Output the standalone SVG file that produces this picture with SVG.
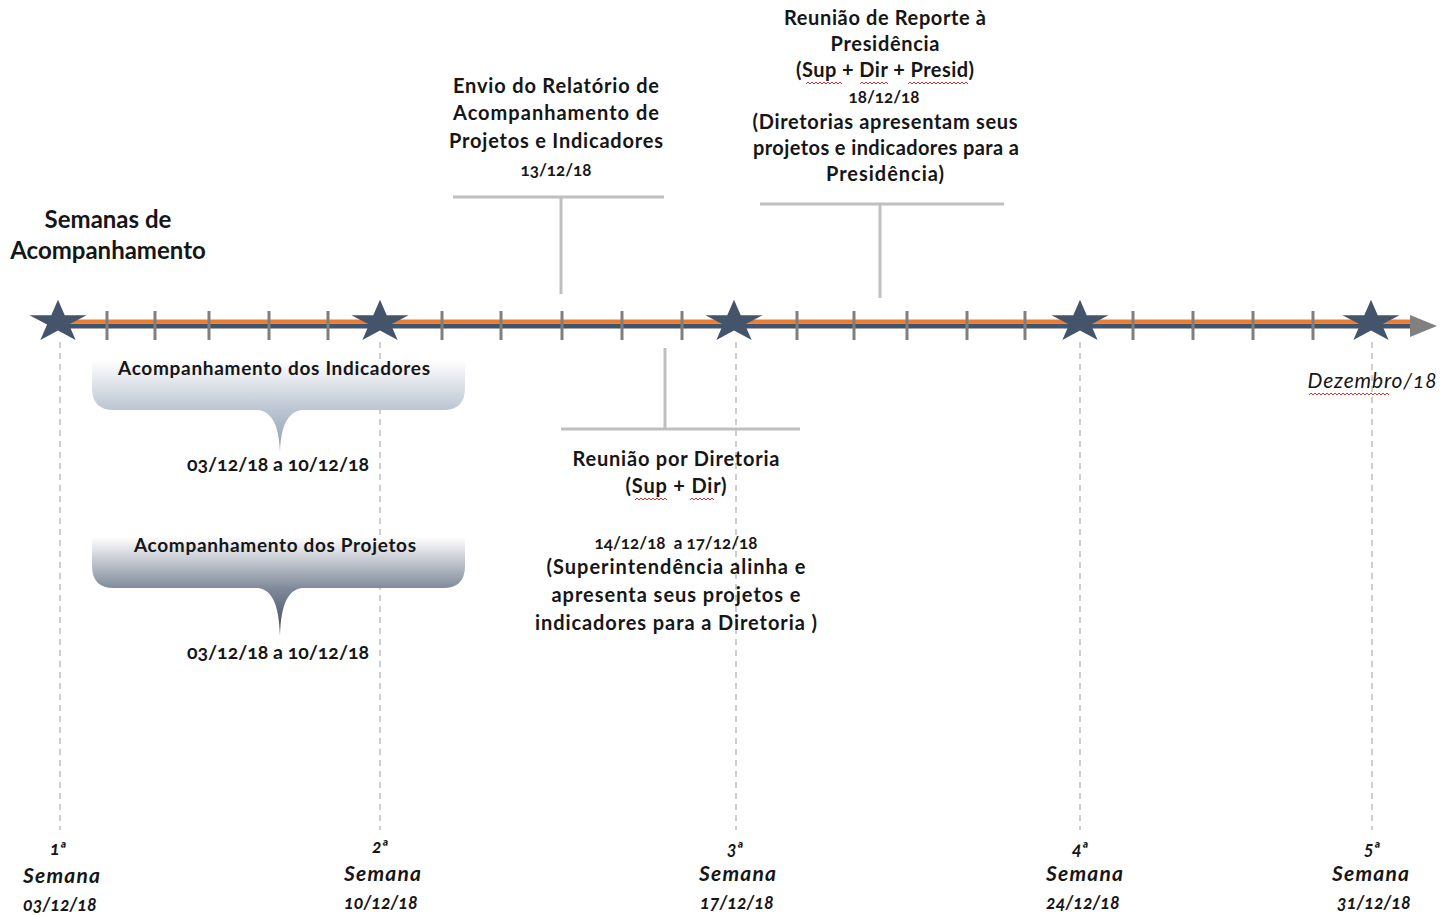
<svg xmlns="http://www.w3.org/2000/svg" width="1442" height="915" viewBox="0 0 1442 915">
  <style>
    .t { font-family: Lato, "Liberation Sans", sans-serif; font-weight: 700; fill: #161616; text-anchor: middle; font-size: 20px; }
    .d { font-variant-numeric: oldstyle-nums; white-space: pre; }
    .wk { font-family: Lato, "Liberation Sans", sans-serif; font-weight: 700; font-style: italic; fill: #161616; font-size: 21px; }
    .wd { font-family: Lato, "Liberation Sans", sans-serif; font-weight: 700; font-style: italic; fill: #161616; font-size: 18px; font-variant-numeric: oldstyle-nums; }
    .tick { stroke: #7f7f7f; stroke-width: 3; }
    .guide { stroke: #bfbfbf; stroke-width: 1.5; stroke-dasharray: 6 5; fill: none; }
    .bracket { stroke: #bfbfbf; stroke-width: 3; fill: none; }
    .spell { stroke: #e03030; stroke-width: 1; fill: none; }
  </style>
  <defs>
    <path id="star" d="M0,-22.2 L6.74,-6.86 L28.53,-6.86 L10.9,2.62 L17.63,17.96 L0,8.48 L-17.63,17.96 L-10.9,2.62 L-28.53,-6.86 L-6.74,-6.86 Z" fill="#44546a"/>
    <linearGradient id="gInd" gradientUnits="userSpaceOnUse" x1="0" y1="360" x2="0" y2="452">
      <stop offset="0" stop-color="#ffffff"/>
      <stop offset="0.54" stop-color="#bcc5d3"/>
      <stop offset="1" stop-color="#8f9bb0"/>
    </linearGradient>
    <linearGradient id="gProj" gradientUnits="userSpaceOnUse" x1="0" y1="537" x2="0" y2="636">
      <stop offset="0" stop-color="#ffffff"/>
      <stop offset="0.52" stop-color="#7f8999"/>
      <stop offset="1" stop-color="#3c485b"/>
    </linearGradient>
  </defs>

  <!-- dashed guides from each week marker -->
  <g id="guides">
    <line class="guide" x1="60" y1="342" x2="60" y2="830"/>
    <line class="guide" x1="380" y1="342" x2="380" y2="830"/>
    <line class="guide" x1="736" y1="342" x2="736" y2="830"/>
    <line class="guide" x1="1080" y1="342" x2="1080" y2="830"/>
    <line class="guide" x1="1372" y1="342" x2="1372" y2="830"/>
  </g>

  <!-- timeline axis -->
  <g id="timeline">
    <line x1="60" y1="326" x2="1415" y2="326" stroke="#44546a" stroke-width="5"/>
    <line x1="60" y1="321.5" x2="1415" y2="321.5" stroke="#ed7d31" stroke-width="4"/>
    <polygon points="1410,315 1437,326 1410,337" fill="#808080"/>
    <g class="tick">
      <line x1="107" y1="311" x2="107" y2="340"/>
      <line x1="155" y1="311" x2="155" y2="340"/>
      <line x1="209" y1="311" x2="209" y2="340"/>
      <line x1="269" y1="311" x2="269" y2="340"/>
      <line x1="328" y1="311" x2="328" y2="340"/>
      <line x1="442" y1="311" x2="442" y2="340"/>
      <line x1="501" y1="311" x2="501" y2="340"/>
      <line x1="562" y1="311" x2="562" y2="340"/>
      <line x1="622" y1="311" x2="622" y2="340"/>
      <line x1="682" y1="311" x2="682" y2="340"/>
      <line x1="797" y1="311" x2="797" y2="340"/>
      <line x1="854" y1="311" x2="854" y2="340"/>
      <line x1="907" y1="311" x2="907" y2="340"/>
      <line x1="967" y1="311" x2="967" y2="340"/>
      <line x1="1025" y1="311" x2="1025" y2="340"/>
      <line x1="1133" y1="311" x2="1133" y2="340"/>
      <line x1="1193" y1="311" x2="1193" y2="340"/>
      <line x1="1253" y1="311" x2="1253" y2="340"/>
      <line x1="1313" y1="311" x2="1313" y2="340"/>
    </g>
    <use href="#star" x="58" y="322"/>
    <use href="#star" x="380" y="322"/>
    <use href="#star" x="734" y="322"/>
    <use href="#star" x="1080" y="322"/>
    <use href="#star" x="1371" y="322"/>
  </g>

  <g id="title">
    <text class="t" x="108" y="228" style="font-size:24px">Semanas de</text>
    <text class="t" x="108" y="259" style="font-size:24px">Acompanhamento</text>
  </g>

  <g id="month">
    <text x="1372" y="388" font-family="Lato, 'Liberation Sans', sans-serif" font-style="italic" font-size="21" fill="#161616" text-anchor="middle" textLength="129" lengthAdjust="spacing" style="font-variant-numeric: oldstyle-nums">Dezembro/18</text>
    <path class="spell" d="M1309,395 l2,-2 l2,2 l2,-2 l2,2 l2,-2 l2,2 l2,-2 l2,2 l2,-2 l2,2 l2,-2 l2,2 l2,-2 l2,2 l2,-2 l2,2 l2,-2 l2,2 l2,-2 l2,2 l2,-2 l2,2 l2,-2 l2,2 l2,-2 l2,2 l2,-2 l2,2 l2,-2 l2,2 l2,-2 l2,2 l2,-2 l2,2 l2,-2 l2,2 l2,-2 l2,2 l2,-2 l2,2"/>
  </g>

  <!-- connectors from the milestones to the axis -->
  <g id="connectors">
    <path class="bracket" d="M453,197 H664 M561,197 V294"/>
    <path class="bracket" d="M760,204 H1004 M880,204 V298"/>
    <path class="bracket" d="M665,348 V429 M561,429 H800"/>
  </g>

  <g id="envio">
    <text class="t" x="556" y="93" textLength="206" lengthAdjust="spacing">Envio do Relatório de</text>
    <text class="t" x="556" y="120" textLength="206" lengthAdjust="spacing">Acompanhamento de</text>
    <text class="t" x="556" y="148" textLength="214" lengthAdjust="spacing">Projetos e Indicadores</text>
    <text class="t d" x="556" y="176" style="font-size:17px">13/12/18</text>
  </g>

  <g id="reporte">
    <text class="t" x="885" y="25" textLength="202" lengthAdjust="spacing">Reunião de Reporte à</text>
    <text class="t" x="885" y="51" textLength="109" lengthAdjust="spacing">Presidência</text>
    <text class="t" x="885" y="77" textLength="178" lengthAdjust="spacing">(Sup + Dir + Presid)</text>
    <text class="t d" x="884" y="103" style="font-size:17px">18/12/18</text>
    <text class="t" x="885" y="129" textLength="265" lengthAdjust="spacing">(Diretorias apresentam seus</text>
    <text class="t" x="886" y="155" textLength="266" lengthAdjust="spacing">projetos e indicadores para a</text>
    <text class="t" x="885" y="181" textLength="118" lengthAdjust="spacing">Presidência)</text>
    <path class="spell" d="M806,84 l2,-2 l2,2 l2,-2 l2,2 l2,-2 l2,2 l2,-2 l2,2 l2,-2 l2,2 l2,-2 l2,2 l2,-2 l2,2 l2,-2 l2,2 l2,-2 l2,2 M860,84 l2,-2 l2,2 l2,-2 l2,2 l2,-2 l2,2 l2,-2 l2,2 l2,-2 l2,2 l2,-2 l2,2 l2,-2 l2,2 M908,84 l2,-2 l2,2 l2,-2 l2,2 l2,-2 l2,2 l2,-2 l2,2 l2,-2 l2,2 l2,-2 l2,2 l2,-2 l2,2 l2,-2 l2,2 l2,-2 l2,2 l2,-2 l2,2 l2,-2 l2,2 l2,-2 l2,2 l2,-2 l2,2 l2,-2 l2,2 l2,-2 l2,2"/>
  </g>

  <g id="diretoria">
    <text class="t" x="676" y="466" textLength="207" lengthAdjust="spacing">Reunião por Diretoria</text>
    <text class="t" x="676" y="493" textLength="101" lengthAdjust="spacing">(Sup + Dir)</text>
    <text class="t d" x="676" y="549" style="font-size:17px">14/12/18  a 17/12/18</text>
    <text class="t" x="676" y="574" textLength="259" lengthAdjust="spacing">(Superintendência alinha  e</text>
    <text class="t" x="676" y="602" textLength="249" lengthAdjust="spacing">apresenta seus projetos e</text>
    <text class="t" x="676" y="630" textLength="282" lengthAdjust="spacing">indicadores  para a Diretoria )</text>
    <path class="spell" d="M635,500 l2,-2 l2,2 l2,-2 l2,2 l2,-2 l2,2 l2,-2 l2,2 l2,-2 l2,2 l2,-2 l2,2 l2,-2 l2,2 l2,-2 l2,2 M690,500 l2,-2 l2,2 l2,-2 l2,2 l2,-2 l2,2 l2,-2 l2,2 l2,-2 l2,2 l2,-2 l2,2"/>
  </g>

  <g id="indicadores">
    <path d="M92,360 H465 V388 Q465,410 443,410 H302 C288,412 281,425 280,452 C279,425 272,412 258,410 H114 Q92,410 92,388 Z" fill="url(#gInd)"/>
    <text class="t" x="274" y="375" textLength="312" lengthAdjust="spacing" style="font-size:19px">Acompanhamento dos Indicadores</text>
    <text class="t d" x="278" y="471" style="font-size:19.5px">03/12/18 a 10/12/18</text>
  </g>

  <g id="projetos">
    <path d="M92,537 H465 V566 Q465,588 443,588 H302 C288,590 281,604 280,636 C279,604 272,590 258,588 H114 Q92,588 92,566 Z" fill="url(#gProj)"/>
    <text class="t" x="275" y="552" textLength="282" lengthAdjust="spacing" style="font-size:19px">Acompanhamento dos Projetos</text>
    <text class="t d" x="278" y="659" style="font-size:19.5px">03/12/18 a 10/12/18</text>
  </g>

  <g id="weeks">
    <text class="wd" x="58" y="855" text-anchor="middle">1ª</text>
    <text class="wk" x="23" y="883" textLength="77" lengthAdjust="spacing">Semana</text>
    <text class="wd" x="23" y="911">03/12/18</text>
    <text class="wd" x="380" y="853" text-anchor="middle">2ª</text>
    <text class="wk" x="344" y="881" textLength="77" lengthAdjust="spacing">Semana</text>
    <text class="wd" x="344" y="909">10/12/18</text>
    <text class="wd" x="735" y="855" text-anchor="middle">3ª</text>
    <text class="wk" x="699" y="881" textLength="77" lengthAdjust="spacing">Semana</text>
    <text class="wd" x="700" y="909">17/12/18</text>
    <text class="wd" x="1080" y="855" text-anchor="middle">4ª</text>
    <text class="wk" x="1046" y="881" textLength="77" lengthAdjust="spacing">Semana</text>
    <text class="wd" x="1046" y="909">24/12/18</text>
    <text class="wd" x="1372" y="855" text-anchor="middle">5ª</text>
    <text class="wk" x="1332" y="881" textLength="77" lengthAdjust="spacing">Semana</text>
    <text class="wd" x="1337" y="909">31/12/18</text>
  </g>
</svg>
